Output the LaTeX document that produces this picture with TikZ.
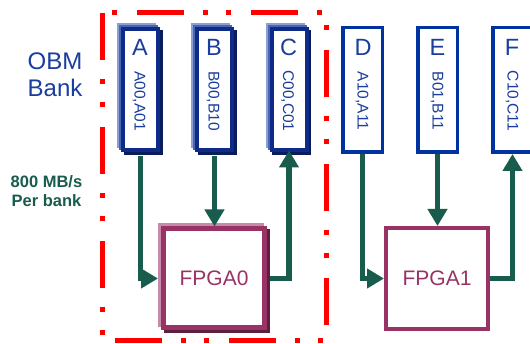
\documentclass[tikz,border=0pt]{standalone}
\usepackage{fontspec}
\setmainfont{Liberation Sans}
\usetikzlibrary{arrows.meta,shadows}

\definecolor{bankblue}{HTML}{0033A0}
\definecolor{banknavy}{HTML}{0E2B8A}
\definecolor{bankdark}{HTML}{0A1C5C}
\definecolor{bankmid}{HTML}{4A66B2}
\definecolor{banklight}{HTML}{8AA0D4}
\definecolor{textblue}{HTML}{1A3D9E}
\definecolor{linkgreen}{HTML}{185C4D}
\definecolor{fpgamag}{HTML}{993366}
\definecolor{fpgadark}{HTML}{5C1F3D}
\definecolor{fpgalight}{HTML}{C68BA8}
\definecolor{framered}{HTML}{FF0000}

\begin{document}
\begin{tikzpicture}[x=1pt,y=-1pt,
  bank/.style={draw=bankblue, line width=3.5pt, fill=white,
    minimum width=39.5pt, minimum height=124.5pt, inner sep=0pt},
  bankraised/.style={draw=banknavy, line width=4pt, fill=white,
    minimum width=35pt, minimum height=121pt, inner sep=0pt,
    copy shadow={shadow xshift=-4pt, shadow yshift=4pt, draw=banklight, fill=banklight},
    copy shadow={shadow xshift=-2pt, shadow yshift=2pt, draw=bankmid, fill=bankmid},
    copy shadow={shadow xshift=2.5pt, shadow yshift=-3pt, draw=bankdark, fill=bankdark}},
  bankname/.style={anchor=base, inner sep=0pt, text=textblue,
    font=\fontsize{23.5}{27}\selectfont},
  bankaddr/.style={rotate=-90, inner sep=0pt, text=textblue,
    font=\fontsize{15.5}{18}\selectfont},
  fpga/.style={draw=fpgamag, line width=4pt, fill=white,
    minimum width=102pt, minimum height=101pt, inner sep=0pt,
    text=fpgamag, font=\fontsize{21}{25}\selectfont},
  fpgaraised/.style={fpga, line width=5pt, minimum width=101pt, minimum height=99pt,
    copy shadow={shadow xshift=-3pt, shadow yshift=3pt, draw=fpgalight, fill=fpgalight},
    copy shadow={shadow xshift=3pt, shadow yshift=-3pt, draw=fpgadark, fill=fpgadark}},
  link/.style={draw=linkgreen, line width=5.5pt,
    -{Triangle[width=19pt,length=17pt]}},
  side/.style={anchor=base, inner sep=0pt, text=textblue,
    font=\fontsize{24}{27}\selectfont},
  rate/.style={anchor=base, inner sep=0pt, text=linkgreen,
    font=\bfseries\fontsize{16.5}{20}\selectfont},
  frame/.style={draw=framered, line width=5pt,
    dash pattern=on 47pt off 19pt on 5pt off 18pt on 5pt off 20pt}
]
\useasboundingbox (0,0) rectangle (530,344);
\clip (0,0) rectangle (530,344);
\fill[white] (0,0) rectangle (530,344);

% side labels
\node[side] (obm) at (55,70) {OBM};
\node[side] (bnk) at (55,97) {Bank};
\node[rate] (rate1) at (46.5,188) {800 MB/s};
\node[rate] (rate2) at (46.5,207) {Per bank};

% memory banks served by FPGA0
\node[bankraised] (A) at (140.5,90) {};
\node[bankraised] (B) at (214.5,90) {};
\node[bankraised] (C) at (289,90) {};
% memory banks served by FPGA1
\node[bank] (D) at (362.5,90) {};
\node[bank] (E) at (437.5,90) {};
\node[bank] (F) at (512.5,90) {};

\node[bankname] (An) at (140,56) {A};
\node[bankname] (Bn) at (214,56) {B};
\node[bankname] (Cn) at (288.5,56) {C};
\node[bankname] (Dn) at (363,56) {D};
\node[bankname] (En) at (437.5,56) {E};
\node[bankname] (Fn) at (512,56) {F};

\node[bankaddr] (Aa) at (139,101) {A00,A01};
\node[bankaddr] (Ba) at (213,101) {B00,B10};
\node[bankaddr] (Ca) at (287.5,101) {C00,C01};
\node[bankaddr] (Da) at (362,101) {A10,A11};
\node[bankaddr] (Ea) at (437,101) {B01,B11};
\node[bankaddr] (Fa) at (512,101) {C10,C11};

% FPGAs
\node[fpgaraised] (P0) at (214,278.5) {FPGA0};
\node[fpga] (P1) at (437,278.5) {FPGA1};

% links
\draw[link, shorten <=4pt, shorten >=3pt] (A.south) |- (P0.west);
\draw[link, shorten <=4pt] (B.south) -- (B.south |- P0.north);
\draw[link, shorten <=3pt, shorten >=-2pt] (P0.east) -| (C.south);
\draw[link] (D.south) |- (P1.west);
\draw[link] (E.south) -- (E.south |- P1.north);
\draw[link] (P1.east) -| (F.south);

% dash-dotted frame around the FPGA0 group
\coordinate (fTL) at (102,13);
\coordinate (fBR) at (326,341);
\draw[frame, dash phase=0pt] (fTL) -- (fTL |- fBR);
\draw[frame, dash phase=79pt] (fTL) -- (fBR |- fTL);
\draw[frame, dash phase=77pt] (fBR |- fTL) -- (fBR);
\draw[frame, dash phase=101pt] (fTL |- fBR) -- (fBR);
\end{tikzpicture}
\end{document}
